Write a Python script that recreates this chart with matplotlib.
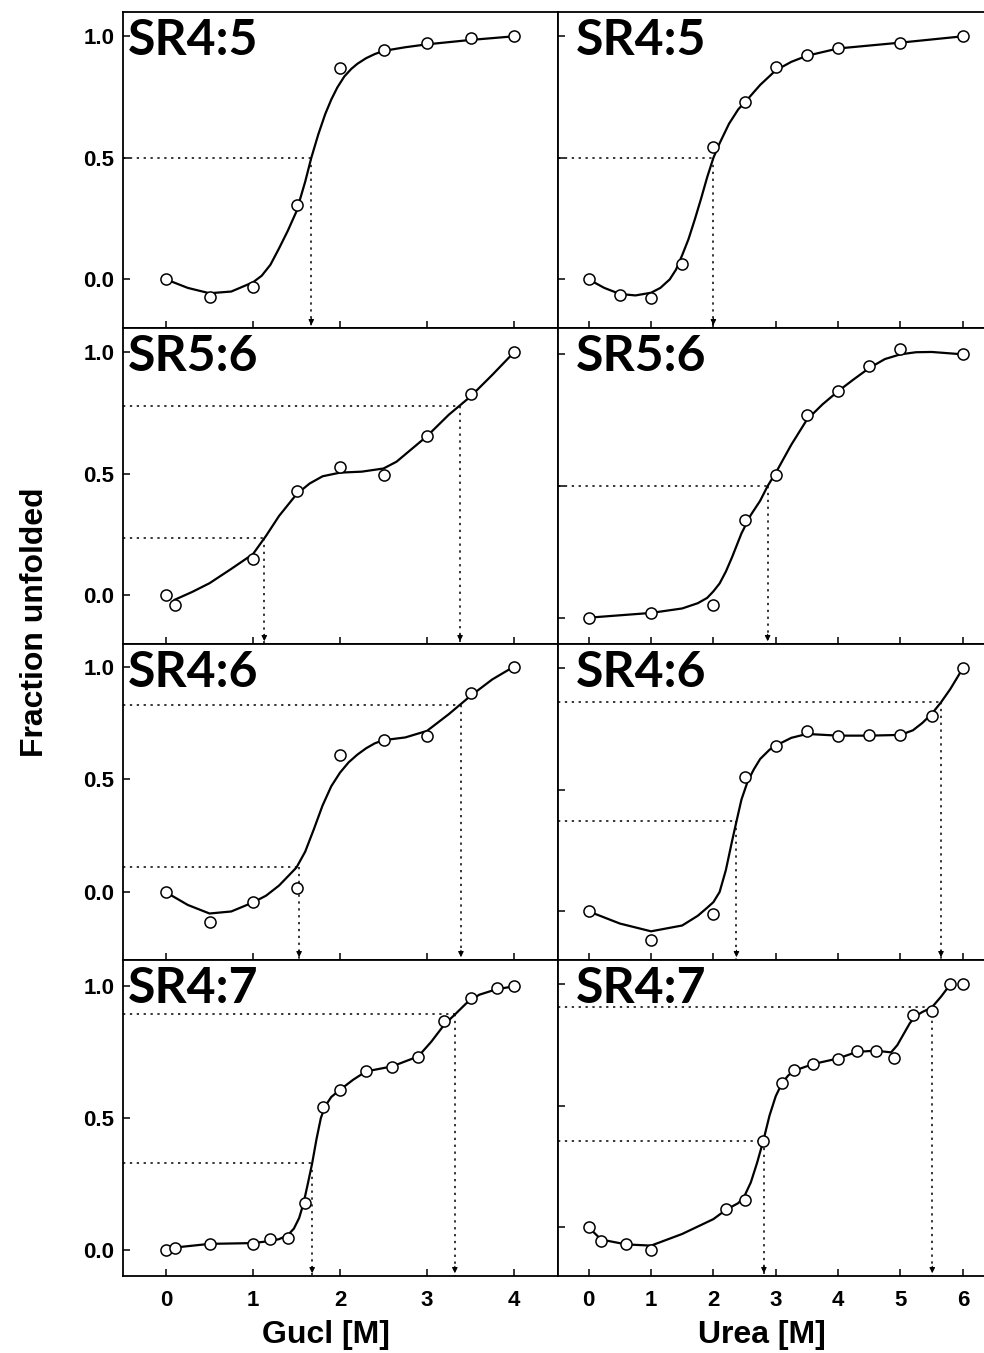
import matplotlib
matplotlib.use("Agg")
import matplotlib.pyplot as plt

plt.rcParams['font.family'] = ['Liberation Sans', 'DejaVu Sans']
plt.rcParams['font.weight'] = 'bold'

# ---- GuCl panels (left column) ----
g45_x = [0, 0.5, 1, 1.5, 2, 2.5, 3, 3.5, 4]
g45_y = [0.0, -0.074, -0.03, 0.306, 0.87, 0.945, 0.972, 0.994, 1.0]
g45_fit_x = [0, 0.25, 0.5, 0.75, 1.0, 1.1, 1.2, 1.3, 1.4, 1.5, 1.6, 1.67, 1.75, 1.83, 1.9, 1.97, 2.05, 2.13, 2.2, 2.3, 2.4, 2.5, 2.75, 3.0, 3.5, 4.0]
g45_fit_y = [0.0, -0.035, -0.057, -0.05, -0.012, 0.015, 0.06, 0.128, 0.2, 0.28, 0.402, 0.5, 0.596, 0.68, 0.74, 0.79, 0.835, 0.866, 0.887, 0.91, 0.927, 0.94, 0.955, 0.967, 0.985, 1.0]
g45_mid = [(1.67, 0.5)]

g56_x = [0, 0.1, 1, 1.5, 2, 2.5, 3, 3.5, 4]
g56_y = [0.0, -0.038, 0.151, 0.431, 0.527, 0.495, 0.655, 0.828, 1.0]
g56_fit_x = [0.1, 0.3, 0.5, 0.75, 1.0, 1.15, 1.3, 1.5, 1.65, 1.8, 2.0, 2.25, 2.5, 2.65, 2.8, 3.0, 3.25, 3.5, 3.75, 4.0]
g56_fit_y = [-0.018, 0.014, 0.05, 0.109, 0.17, 0.245, 0.327, 0.416, 0.46, 0.49, 0.505, 0.509, 0.522, 0.55, 0.595, 0.655, 0.743, 0.818, 0.907, 1.0]
g56_mid = [(1.13, 0.237), (3.38, 0.78)]

g46_x = [0, 0.5, 1, 1.5, 2, 2.5, 3, 3.5, 4]
g46_y = [0.0, -0.132, -0.044, 0.02, 0.608, 0.675, 0.692, 0.884, 1.0]
g46_fit_x = [0, 0.25, 0.5, 0.75, 1.0, 1.15, 1.3, 1.4, 1.5, 1.6, 1.7, 1.8, 1.9, 2.0, 2.1, 2.2, 2.3, 2.4, 2.5, 2.75, 3.0, 3.25, 3.5, 3.75, 4.0]
g46_fit_y = [0.0, -0.056, -0.094, -0.085, -0.045, -0.015, 0.03, 0.07, 0.11, 0.18, 0.28, 0.385, 0.47, 0.53, 0.576, 0.61, 0.638, 0.66, 0.674, 0.686, 0.715, 0.789, 0.87, 0.943, 1.0]
g46_mid = [(1.53, 0.113), (3.39, 0.828)]

g47_x = [0, 0.1, 0.5, 1.0, 1.2, 1.4, 1.6, 1.8, 2.0, 2.3, 2.6, 2.9, 3.2, 3.5, 3.8, 4.0]
g47_y = [0.0, 0.008, 0.023, 0.023, 0.041, 0.045, 0.178, 0.54, 0.608, 0.677, 0.693, 0.733, 0.868, 0.955, 0.992, 1.0]
g47_fit_x = [0.1, 0.5, 1.0, 1.2, 1.3, 1.4, 1.47, 1.53, 1.58, 1.63, 1.68, 1.73, 1.78, 1.83, 1.9, 2.0, 2.15, 2.3, 2.6, 2.9, 3.05, 3.2, 3.33, 3.45, 3.6, 3.8, 4.0]
g47_fit_y = [0.008, 0.022, 0.025, 0.033, 0.04, 0.055, 0.08, 0.12, 0.175, 0.25, 0.328, 0.42, 0.5, 0.545, 0.58, 0.607, 0.645, 0.677, 0.696, 0.734, 0.79, 0.855, 0.896, 0.935, 0.968, 0.989, 1.0]
g47_mid = [(1.68, 0.328), (3.32, 0.896)]

# ---- Urea panels (right column) ----
u45_x = [0, 0.5, 1, 1.5, 2, 2.5, 3, 3.5, 4, 5, 6]
u45_y = [0.0, -0.065, -0.076, 0.065, 0.545, 0.73, 0.872, 0.924, 0.953, 0.974, 1.0]
u45_fit_x = [0, 0.25, 0.5, 0.75, 1.0, 1.15, 1.3, 1.4, 1.5, 1.6, 1.7, 1.8, 1.9, 2.0, 2.1, 2.25, 2.4, 2.5, 2.75, 3.0, 3.25, 3.5, 4.0, 5.0, 6.0]
u45_fit_y = [0.0, -0.035, -0.06, -0.066, -0.055, -0.035, 0.0, 0.04, 0.1, 0.165, 0.245, 0.33, 0.42, 0.5, 0.56, 0.64, 0.7, 0.727, 0.8, 0.86, 0.895, 0.92, 0.95, 0.974, 1.0]
u45_mid = [(2.0, 0.5)]

u56_x = [0, 1, 2, 2.5, 3, 3.5, 4, 4.5, 5, 6]
u56_y = [0.0, 0.018, 0.049, 0.372, 0.541, 0.769, 0.86, 0.954, 1.02, 1.0]
u56_fit_x = [0, 0.5, 1.0, 1.5, 1.75, 1.9, 2.0, 2.1, 2.2, 2.3, 2.45, 2.6, 2.75, 2.87, 3.0, 3.25, 3.5, 3.75, 4.0, 4.25, 4.5, 4.75, 5.0, 5.25, 5.5, 6.0]
u56_fit_y = [0.0, 0.009, 0.018, 0.035, 0.055, 0.075, 0.1, 0.13, 0.175, 0.23, 0.32, 0.39, 0.444, 0.5, 0.55, 0.657, 0.752, 0.81, 0.86, 0.905, 0.948, 0.982, 1.0, 1.008, 1.009, 1.0]
u56_mid = [(2.87, 0.5)]

u46_x = [0, 1, 2, 2.5, 3, 3.5, 4, 4.5, 5, 5.5, 6]
u46_y = [0.0, -0.118, -0.011, 0.552, 0.679, 0.742, 0.723, 0.726, 0.726, 0.805, 1.0]
u46_fit_x = [0, 0.5, 1.0, 1.5, 1.75, 1.9, 2.0, 2.1, 2.2, 2.3, 2.37, 2.45, 2.55, 2.65, 2.75, 2.9, 3.0, 3.25, 3.5, 4.0, 4.5, 5.0, 5.2, 5.35, 5.5, 5.65, 5.8, 6.0]
u46_fit_y = [0.0, -0.05, -0.082, -0.058, -0.018, 0.015, 0.038, 0.08, 0.17, 0.29, 0.37, 0.46, 0.535, 0.585, 0.627, 0.665, 0.682, 0.714, 0.73, 0.723, 0.723, 0.726, 0.745, 0.775, 0.812, 0.86, 0.915, 1.0]
u46_mid = [(2.37, 0.37), (5.65, 0.86)]

u47_x = [0, 0.2, 0.6, 1.0, 2.2, 2.5, 2.8, 3.1, 3.3, 3.6, 4.0, 4.3, 4.6, 4.9, 5.2, 5.5, 5.8, 6.0]
u47_y = [0.0, -0.058, -0.07, -0.093, 0.077, 0.112, 0.356, 0.593, 0.647, 0.673, 0.692, 0.725, 0.727, 0.697, 0.874, 0.889, 1.0, 1.0]
u47_fit_x = [0, 0.2, 0.6, 1.0, 1.5, 2.0, 2.2, 2.4, 2.5, 2.6, 2.7, 2.8, 2.9, 3.0, 3.1, 3.2, 3.3, 3.6, 4.0, 4.3, 4.6, 4.85, 4.95, 5.05, 5.15, 5.25, 5.35, 5.5, 5.65, 5.8]
u47_fit_y = [0.0, -0.05, -0.07, -0.075, -0.027, 0.034, 0.072, 0.1, 0.13, 0.185, 0.265, 0.356, 0.46, 0.54, 0.593, 0.625, 0.645, 0.672, 0.695, 0.722, 0.727, 0.72, 0.75, 0.795, 0.84, 0.87, 0.886, 0.904, 0.949, 1.0]
u47_mid = [(2.81, 0.356), (5.51, 0.908)]

labels = ['SR4:5', 'SR5:6', 'SR4:6', 'SR4:7']
left_ylims = [(-0.2, 1.1), (-0.2, 1.1), (-0.3, 1.1), (-0.1, 1.1)]
right_ylims = [(-0.2, 1.1), (-0.1, 1.1), (-0.2, 1.1), (-0.2, 1.1)]

left_data = [(g45_x, g45_y, g45_fit_x, g45_fit_y, g45_mid),
             (g56_x, g56_y, g56_fit_x, g56_fit_y, g56_mid),
             (g46_x, g46_y, g46_fit_x, g46_fit_y, g46_mid),
             (g47_x, g47_y, g47_fit_x, g47_fit_y, g47_mid)]
right_data = [(u45_x, u45_y, u45_fit_x, u45_fit_y, u45_mid),
              (u56_x, u56_y, u56_fit_x, u56_fit_y, u56_mid),
              (u46_x, u46_y, u46_fit_x, u46_fit_y, u46_mid),
              (u47_x, u47_y, u47_fit_x, u47_fit_y, u47_mid)]

W, H = 984, 1353
fig = plt.figure(figsize=(W / 100, H / 100), dpi=100)

row_top = 12
row_h = 316
dot = (0, (1.5, 3))


def draw_panel(ax, data, ylim, xlim, xticks, label, lab_x, show_ylab, show_xlab):
    px, py, fx, fy, mids = data
    ax.plot(fx, fy, color='black', lw=1.6, zorder=2, solid_joinstyle='round')
    ax.plot(px, py, 'o', ms=8, mfc='white', mec='black', mew=1.1, zorder=3)
    for mx, my in mids:
        ax.plot([xlim[0], mx], [my, my], color='black', lw=1.1, ls=dot, zorder=1)
        ax.plot([mx, mx], [my, ylim[0]], color='black', lw=1.1, ls=dot, zorder=1)
        ax.annotate('', xy=(mx, ylim[0]), xytext=(0, 9), textcoords='offset points',
                    arrowprops=dict(arrowstyle='-|>', color='black', lw=0.8, mutation_scale=8))
    ax.set_xlim(xlim)
    ax.set_ylim(ylim)
    ax.set_xticks(xticks)
    ax.set_yticks([0.0, 0.5, 1.0])
    ax.tick_params(direction='in', length=5, width=1.1, labelsize=16, pad=6)
    if show_ylab:
        ax.set_yticklabels(['0.0', '0.5', '1.0'], fontweight='bold')
    else:
        ax.set_yticklabels([])
    if show_xlab:
        ax.set_xticklabels([str(t) for t in xticks], fontweight='bold')
        ax.tick_params(axis='x', pad=10)
    else:
        ax.set_xticklabels([])
    for sp in ax.spines.values():
        sp.set_linewidth(1.3)
    ax.text(lab_x, 0.98, label, transform=ax.transAxes, ha='left', va='top',
            fontsize=36, fontweight='bold', family=['Lato', 'DejaVu Sans'])


for i in range(4):
    top = row_top + i * row_h
    b = 1 - (top + row_h) / H
    h = row_h / H
    axl = fig.add_axes([122.5 / W, b, (557.5 - 122.5) / W, h])
    axr = fig.add_axes([557.5 / W, b, (994 - 557.5) / W, h])
    draw_panel(axl, left_data[i], left_ylims[i], (-0.5, 4.5), [0, 1, 2, 3, 4],
               labels[i], 0.012, True, i == 3)
    draw_panel(axr, right_data[i], right_ylims[i], (-0.5, 6.5), [0, 1, 2, 3, 4, 5, 6],
               labels[i], 0.042, False, i == 3)

fig.text(326 / W, 1 - 1335 / H, 'Gucl [M]', ha='center', va='center', fontsize=23, fontweight='bold')
fig.text(762 / W, 1 - 1335 / H, 'Urea [M]', ha='center', va='center', fontsize=23, fontweight='bold')
fig.text(35 / W, 1 - 622 / H, 'Fraction unfolded', ha='center', va='center', rotation=90,
         fontsize=23, fontweight='bold')

fig.savefig('out.png', dpi=100)
